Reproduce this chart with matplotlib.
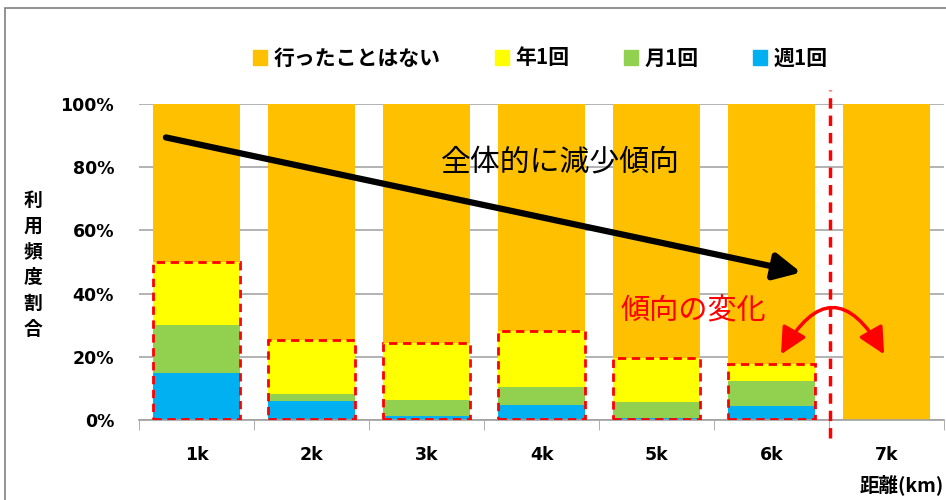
import matplotlib.pyplot as plt
import matplotlib.patches as mpatches
import numpy as np

plt.rcParams['font.family'] = ['Noto Sans CJK JP', 'DejaVu Sans']

# data (shares of respondents, %)
categories = ['1k', '2k', '3k', '4k', '5k', '6k', '7k']
weekly = [15, 6, 1.3, 4.7, 0.6, 4.4, 0]
monthly = [15, 2.2, 4.9, 5.8, 5.2, 7.9, 0]
yearly = [20, 17.1, 18.3, 17.7, 13.7, 5.3, 0]
never = [100 - w - m - y for w, m, y in zip(weekly, monthly, yearly)]
series_names = ['行ったことはない', '年1回', '月1回', '週1回']
colors = {'行ったことはない': '#FFC000', '年1回': '#FFFF00', '月1回': '#92D050', '週1回': '#00B0F0'}

fig = plt.figure(figsize=(9.46, 5), dpi=100)
ax = fig.add_axes([0.147, 0.16, 0.851, 0.632])

x = np.arange(len(categories))
w = np.array(weekly) / 100
m = np.array(monthly) / 100
y = np.array(yearly) / 100
n = np.array(never) / 100
bw = 0.76
ax.bar(x, w, bw, color=colors['週1回'], label='週1回', zorder=2)
ax.bar(x, m, bw, bottom=w, color=colors['月1回'], label='月1回', zorder=2)
ax.bar(x, y, bw, bottom=w + m, color=colors['年1回'], label='年1回', zorder=2)
ax.bar(x, n, bw, bottom=w + m + y, color=colors['行ったことはない'], label='行ったことはない', zorder=2)

ax.set_xlim(-0.5, len(categories) - 0.5)
ax.set_ylim(0, 1)
ax.set_yticks(np.arange(0, 1.01, 0.2))
ax.set_yticklabels(['%d%%' % v for v in range(0, 101, 20)], fontsize=12.5, fontweight='bold', family='DejaVu Sans')
ax.set_xticks(x)
ax.set_xticklabels(categories, fontsize=12.5, fontweight='bold', family='DejaVu Sans')
ax.set_xticks(np.arange(-0.5, len(categories), 1), minor=True)
ax.tick_params(axis='x', which='major', length=0, pad=19)
ax.tick_params(axis='x', which='minor', length=7, color='#A0A0A0')
ax.tick_params(axis='y', length=0, pad=18)
ax.yaxis.grid(True, color='#A6A6A6', linewidth=1.2, zorder=0)
for s in ['top', 'right', 'left']:
    ax.spines[s].set_visible(False)
ax.spines['bottom'].set_color('#A0A0A0')
ax.spines['bottom'].set_linewidth(1.2)

# red dashed boxes around the lower part of 1k-6k
for i in range(6):
    top = w[i] + m[i] + y[i]
    ax.add_patch(mpatches.Rectangle((i - bw / 2, 0.003), bw, top - 0.003, fill=False,
                                    edgecolor='#FF0000', linestyle=(0, (3, 2)), linewidth=2, zorder=4))

# vertical dashed separator
ax.plot([5.51, 5.51], [-0.057, 1.045], color='#FF0000', linestyle=(0, (3, 2)), linewidth=2.5,
        clip_on=False, zorder=5)

# trend arrow
ax.annotate('', xy=(5.28, 0.465), xytext=(-0.29, 0.896),
            arrowprops=dict(arrowstyle='-|>,head_length=1.6,head_width=0.8', color='black', lw=4.5),
            zorder=6)
ax.text(3.16, 0.816, '全体的に減少傾向', fontsize=21.5, ha='center', va='center', zorder=7)
ax.text(4.32, 0.345, '傾向の変化', fontsize=21, color='#FF0000', ha='center', va='center', zorder=7)

# curved double arrow
ax.add_patch(mpatches.FancyArrowPatch((5.07, 0.2), (5.99, 0.2), connectionstyle='arc3,rad=-0.9',
                                      arrowstyle='<|-|>,head_length=0.8,head_width=0.4',
                                      color='#FF0000', lw=2.5, mutation_scale=20, zorder=7))

# legend
handles = [mpatches.Patch(color=colors[s]) for s in series_names]
fig.legend(handles, series_names, loc='center', bbox_to_anchor=(0.571, 0.884), ncol=4, frameon=False,
           prop={'size': 15, 'weight': 'bold'}, handlelength=0.7, handleheight=0.7,
           handletextpad=0.3, columnspacing=2.6)

# axis titles
fig.text(0.035, 0.47, '利\n用\n頻\n度\n割\n合', fontsize=13.5, fontweight='bold', ha='center', va='center',
         linespacing=1.45)
fig.text(0.953, 0.03, '距離(km)', fontsize=14, fontweight='bold', ha='center', va='center')

# outer frame
fig.patches.append(mpatches.Rectangle((0.005, -0.1), 1.2, 1.084, transform=fig.transFigure,
                                      fill=False, edgecolor='#808080', linewidth=1.2))

fig.savefig('out.png', dpi=100)
